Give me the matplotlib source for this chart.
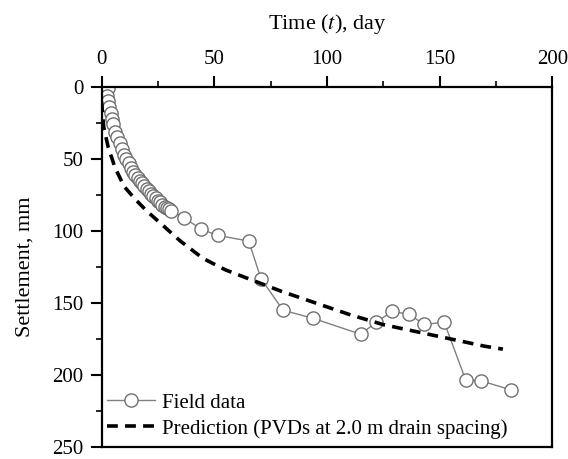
import matplotlib
matplotlib.use("Agg")
import matplotlib.pyplot as plt
from matplotlib.ticker import MultipleLocator

# field measurements
field_days = [3, 2.5, 3, 3.5, 4, 4.5, 5, 6, 7, 8, 9, 10, 11, 12, 13, 14, 15, 16,
              17, 18, 19, 20, 21, 22, 23, 24, 25, 26, 27, 28, 29, 30, 31,
              36.6, 44.3, 51.5, 65.3, 70.7, 80.5, 94, 115, 121.7, 128.9, 136.5,
              143, 152, 161.5, 168.2, 181.7]
field_settlement = [1, 6, 10, 14, 18, 22, 26, 31, 35, 39, 43, 47, 50, 53, 56, 59, 61, 63,
                    65, 67, 69, 71, 72, 74, 76, 77, 79, 80, 82, 83, 84, 85, 86,
                    90.9, 98.8, 103, 107, 133, 155, 160.7, 171.7, 163.4, 155.8, 157.9,
                    164.8, 163.4, 203.4, 204, 210.3]

# predicted curve
pred_days = [0, 1, 3, 6, 10, 15, 20, 25, 35, 45, 55, 65, 80, 95, 110, 125, 140, 155, 170, 178]
pred_settlement = [10, 28, 42, 56, 69, 78, 86, 93, 107, 119, 127, 133, 142, 150, 158,
                   165, 170, 175, 180, 182]

plt.rcParams["font.family"] = ["Liberation Serif", "DejaVu Serif"]
plt.rcParams["mathtext.fontset"] = "stix"

fig = plt.figure(figsize=(5.68, 4.59), dpi=100)
ax = fig.add_axes([0.1787, 0.026, 0.794, 0.7845])

ax.plot(field_days, field_settlement, color="#808080", lw=1.0, marker="o",
        ms=9.5, mfc="white", mec="#707070", mew=1.0, label="Field data")
ax.plot(pred_days, pred_settlement, color="black", lw=2.6, ls=(0, (3, 2)),
        label="Prediction (PVDs at 2.0 m drain spacing)")

ax.set_xlim(0, 200)
ax.set_ylim(250, 0)
ax.xaxis.tick_top()
ax.xaxis.set_label_position("top")
ax.xaxis.set_major_locator(MultipleLocator(50))
ax.xaxis.set_minor_locator(MultipleLocator(25))
ax.yaxis.set_major_locator(MultipleLocator(50))
ax.yaxis.set_minor_locator(MultipleLocator(25))
ax.tick_params(which="major", direction="out", length=8, width=1.5, labelsize=15, pad=5)
ax.tick_params(which="minor", direction="out", length=4.5, width=1.2)
for sp in ax.spines.values():
    sp.set_linewidth(1.6)

ax.set_xlabel("Time ($t$), day", fontsize=16, labelpad=15)
ax.set_ylabel("Settlement, mm", fontsize=16, labelpad=13)

ax.legend(loc="lower left", bbox_to_anchor=(0.003, 0.012), frameon=False, fontsize=15,
          handlelength=2.3, borderaxespad=0, borderpad=0.2, labelspacing=0.3,
          handletextpad=0.35)

fig.savefig("out.png", dpi=100)
